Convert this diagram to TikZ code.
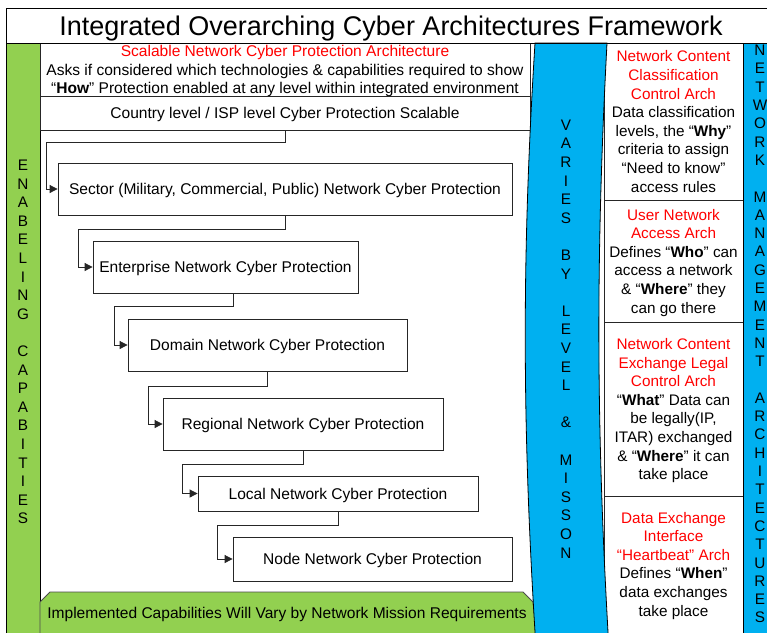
\documentclass[tikz,border=0pt]{standalone}
\usepackage{fontspec}
\setmainfont{Liberation Sans}
\usetikzlibrary{arrows.meta,calc}
\definecolor{capgreen}{RGB}{146,208,80}
\definecolor{varyblue}{RGB}{0,176,240}
\newcommand{\rl}[1]{\textcolor{red}{#1}}

\begin{document}
\begin{tikzpicture}[x=1pt,y=-1pt,
  txt/.style={font=\fontsize{15.55}{18.6}\selectfont,align=center,inner sep=0pt,text depth=0pt},
  box/.style={txt,draw=black!85,line width=0.8pt,fill=white},
  colbox/.style={box,font=\fontsize{15.3}{18.6}\selectfont,minimum width=139pt},
  letters/.style={txt,font=\fontsize{15.3}{18.6}\selectfont},
  link/.style={draw=black!85,line width=0.8pt,-{Triangle[length=8pt,width=8pt]}}]
\useasboundingbox (0,0) rectangle (767,632);
\fill[white] (0,0) rectangle (767,632);
\filldraw[fill=capgreen,draw=black,line width=0.8pt] (6,43) rectangle (40,650);
\filldraw[fill=capgreen,draw=black!70,line width=0.8pt] (40,650) -- (40,602) -- (50,592) -- (523,592) -- (533,602) -- (538,650);
\node (implemented) [txt] at (287,613) {Implemented Capabilities Will Vary by Network Mission Requirements};
\node (scalable) [box,minimum width=490pt,minimum height=53pt] at (285,69.5) {\rl{Scalable Network Cyber Protection Architecture}\\Asks if considered which technologies \& capabilities required to show\\“\textbf{How}” Protection enabled at any level within integrated environment};
\node (country) [box,minimum width=490pt,minimum height=34pt] at (285,113) {Country level / ISP level Cyber Protection Scalable};
\node (sector) [box,minimum width=454pt,minimum height=52pt] at (285,189) {Sector (Military, Commercial, Public) Network Cyber Protection};
\node (enterprise) [box,minimum width=265pt,minimum height=52pt] at (225.5,267) {Enterprise Network Cyber Protection};
\node (domain) [box,minimum width=279pt,minimum height=52pt] at (267.5,345) {Domain Network Cyber Protection};
\node (regional) [box,minimum width=280pt,minimum height=52pt] at (303,424) {Regional Network Cyber Protection};
\node (local) [box,minimum width=280pt,minimum height=35pt] at (338,493.5) {Local Network Cyber Protection};
\node (nodelevel) [box,minimum width=279pt,minimum height=44pt] at (372.5,559) {Node Network Cyber Protection};
\draw[link] (country.south) -- ++(0,12) -| ([xshift=-11pt]sector.west) -- (sector.west);
\draw[link] (sector.south) -- ++(0,14) -| ([xshift=-14pt]enterprise.west) -- (enterprise.west);
\draw[link] ([xshift=7.5pt]enterprise.south) -- ++(0,13) -| ([xshift=-13pt]domain.west) -- (domain.west);
\draw[link] (domain.south) -- ++(0,15) -| ([xshift=-14pt]regional.west) -- (regional.west);
\draw[link] (regional.south) -- ++(0,14) -| ([xshift=-15pt]local.west) -- (local.west);
\draw[link] (local.south) -- ++(0,14) -| ([xshift=-15pt]nodelevel.west) -- (nodelevel.west);
\node (classification) [colbox,minimum height=157pt] at (673.5,121.5) {\rl{Network Content}\\\rl{Classification}\\\rl{Control Arch}\\Data classification\\levels, the “\textbf{Why}”\\criteria to assign\\“Need to know”\\access rules};
\node (access) [colbox,minimum height=122pt] at (673.5,261) {\rl{User Network}\\\rl{Access Arch}\\Defines “\textbf{Who}” can\\access a network\\\& “\textbf{Where}” they\\can go there};
\node (legal) [colbox,minimum height=174pt] at (673.5,409) {\rl{Network Content}\\\rl{Exchange Legal}\\\rl{Control Arch}\\“\textbf{What}” Data can\\be legally(IP,\\ITAR) exchanged\\\& “\textbf{Where}” it can\\take place};
\filldraw[fill=white,draw=black!85,line width=0.8pt] (604,496) rectangle (743,650);
\node (heartbeat) [letters] at (673.5,564) {\rl{Data Exchange}\\\rl{Interface}\\\rl{“Heartbeat” Arch}\\Defines “\textbf{When}”\\data exchanges\\take place};
\filldraw[fill=varyblue,draw=black,line width=0.8pt] (535,43) .. controls (522,250) and (522,420) .. (535,632) -- (535,650) -- (608,650) -- (608,632) .. controls (596,420) and (596,250) .. (607,43) -- cycle;
\filldraw[fill=varyblue,draw=black,line width=0.8pt] (743,43) rectangle (790,650);
\node (enabling) [letters] at (23,342) {E\\N\\A\\B\\E\\L\\I\\N\\G\\~\\C\\A\\P\\A\\B\\I\\T\\I\\E\\S};
\node (varies) [letters] at (566,339) {V\\A\\R\\I\\E\\S\\~\\B\\Y\\~\\L\\E\\V\\E\\L\\~\\\&\\~\\M\\I\\S\\S\\O\\N};
\node (netmgmt) [letters,font=\fontsize{15.3}{18.3}\selectfont] at (760,334) {N\\E\\T\\W\\O\\R\\K\\~\\M\\A\\N\\A\\G\\E\\M\\E\\N\\T\\~\\A\\R\\C\\H\\I\\T\\E\\C\\T\\U\\R\\E\\S};
\draw[line width=0.8pt] (6,8) rectangle (790,43);
\node (title) [font=\fontsize{27}{32}\selectfont,text depth=0pt] at (391,25.5) {Integrated Overarching Cyber Architectures Framework};
\end{tikzpicture}
\end{document}
